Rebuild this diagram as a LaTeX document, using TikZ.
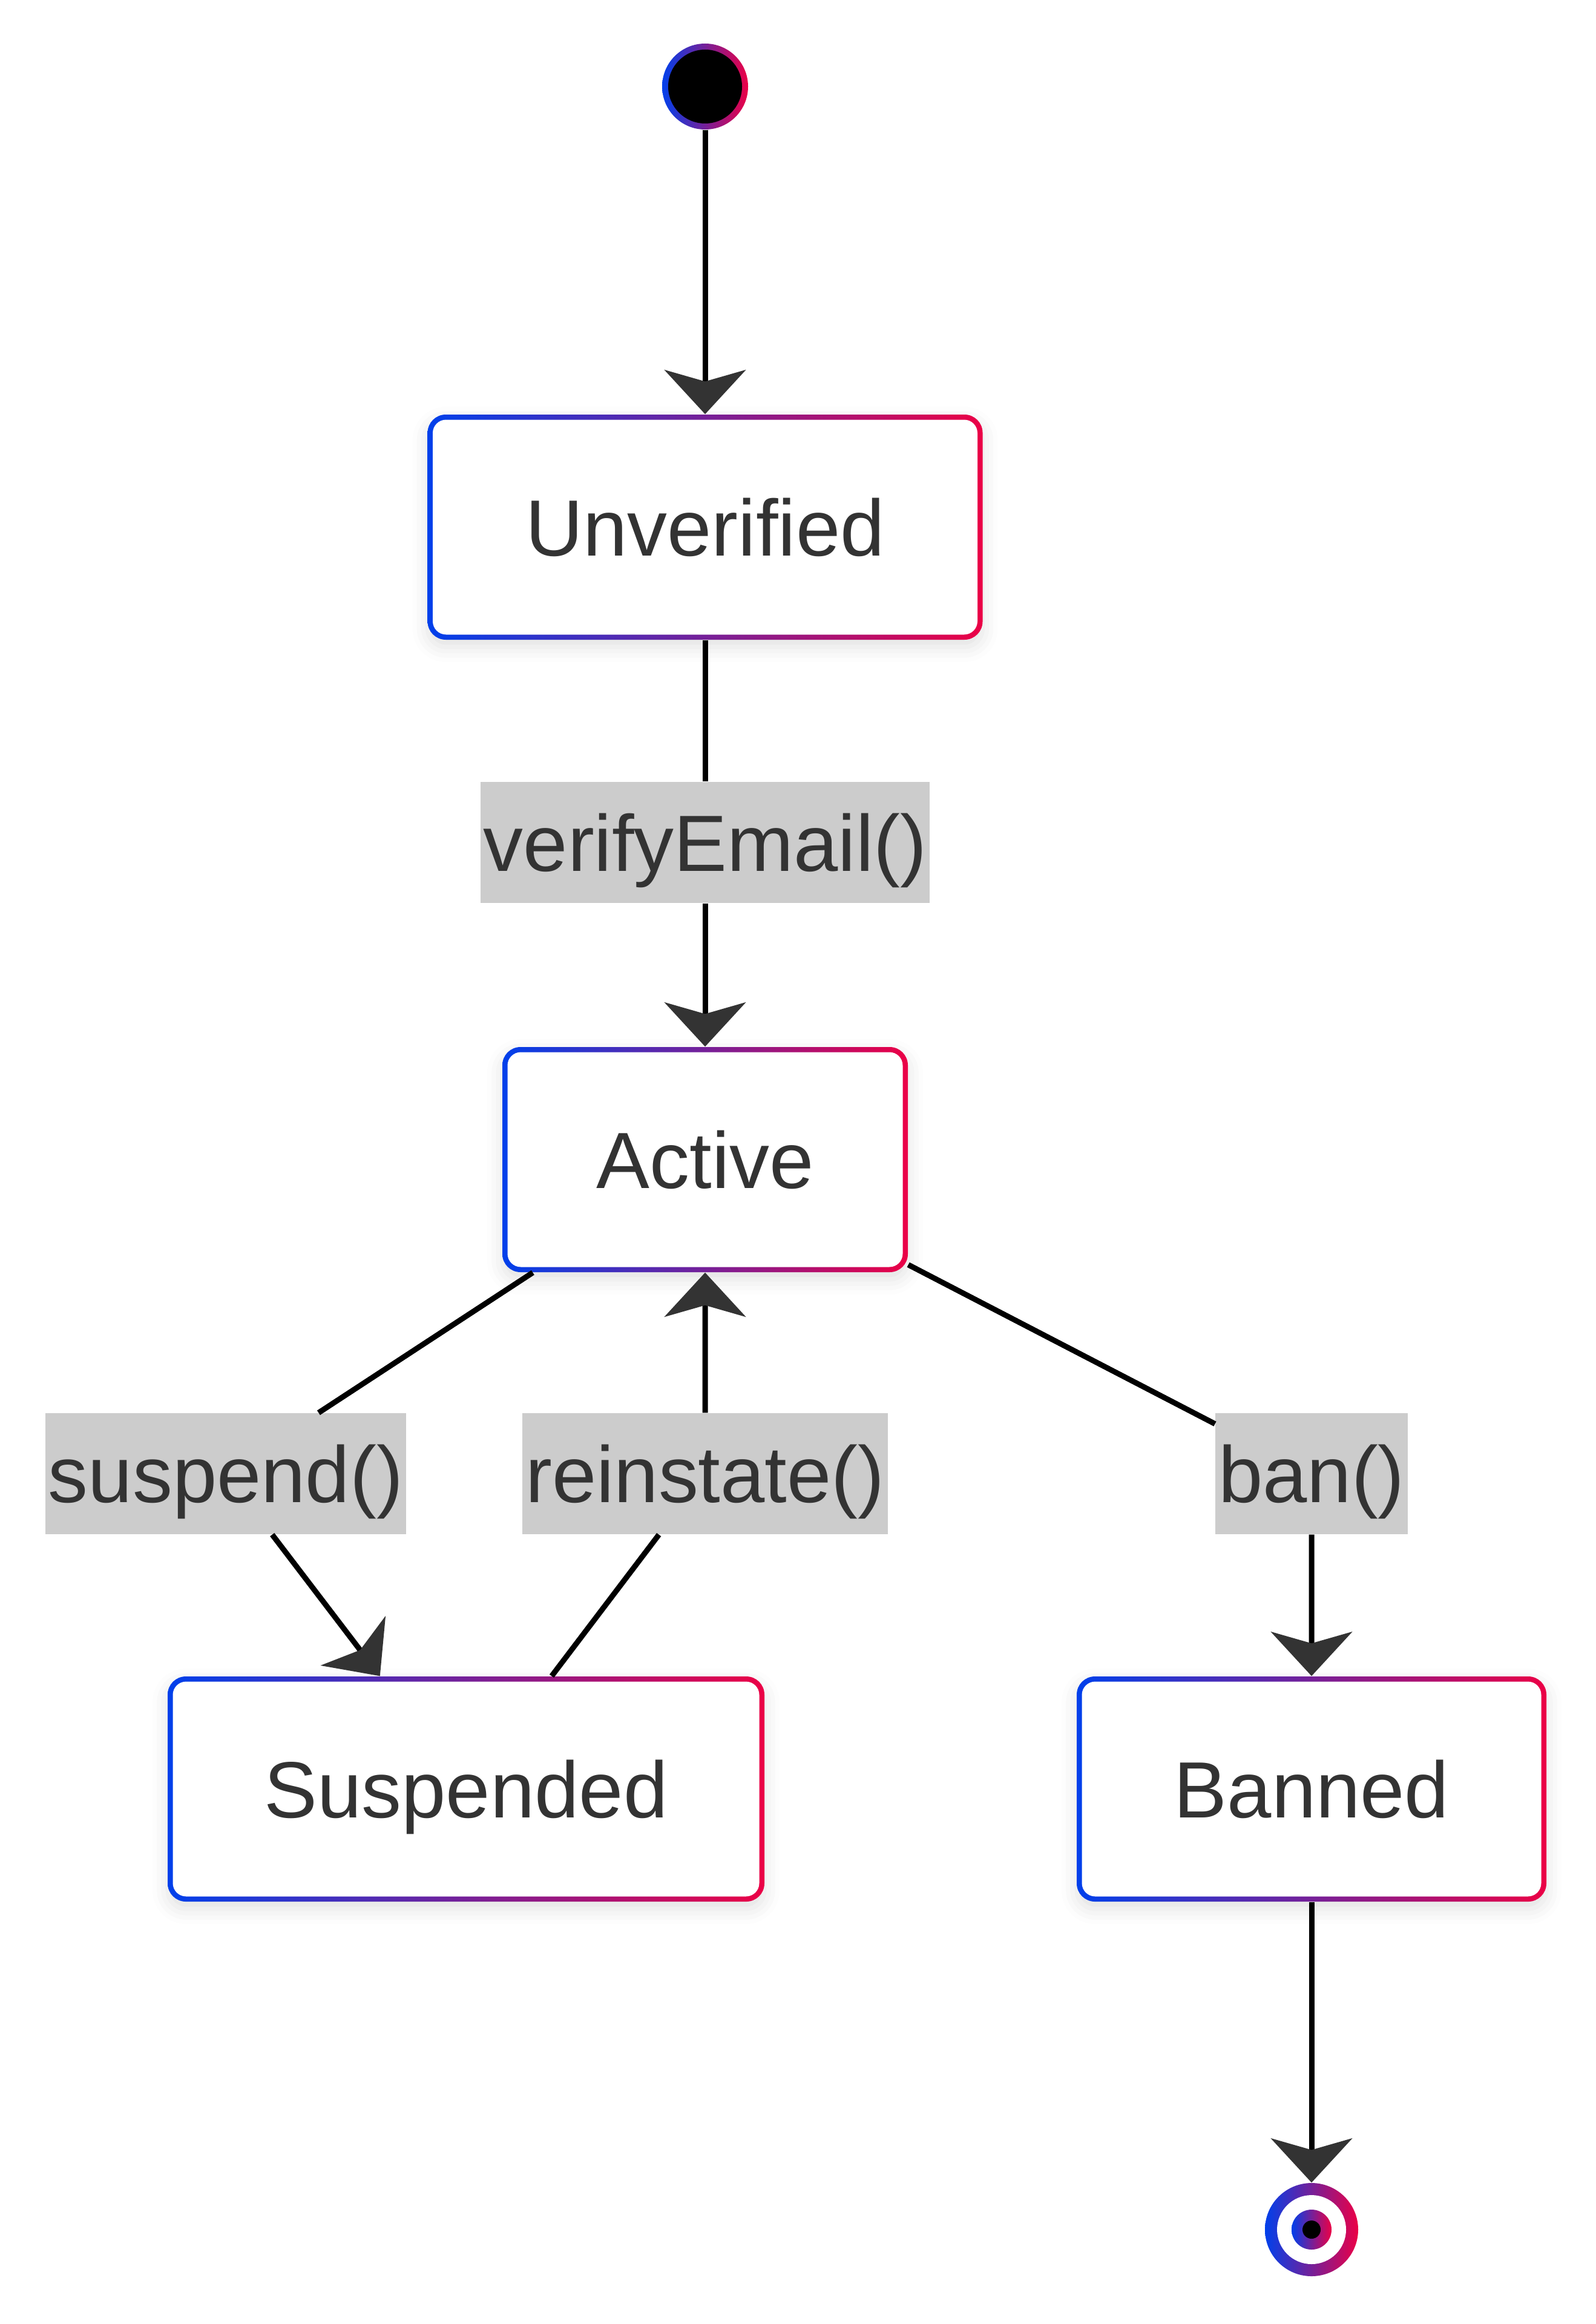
\documentclass[tikz,border=0pt]{standalone}
\usepackage{fontspec}
\setmainfont{Liberation Sans}
\usetikzlibrary{arrows.meta,shadows.blur}

\definecolor{blueend}{RGB}{0,64,235}
\definecolor{redend}{RGB}{235,0,70}
\definecolor{textgray}{HTML}{333333}
\definecolor{labelgray}{HTML}{CCCCCC}
\newcommand\statefont{\fontsize{37.5}{45}\selectfont}

\begin{document}
\begin{tikzpicture}
      \tikzstyle{state}=[rectangle,rounded corners=0.3cm,inner sep=0,minimum height=3.72cm,
        text height=0.95cm,text depth=0cm,left color=blueend,right color=redend,
        text=textgray,font=\statefont,
        blur shadow={shadow xshift=0cm,shadow yshift=-0.12cm,shadow blur radius=0.25cm,shadow opacity=12},
        path picture={\fill[white,rounded corners=0.22cm]
          ([shift={(0.085,0.085)}]path picture bounding box.south west) rectangle
          ([shift={(-0.085,-0.085)}]path picture bounding box.north east);}]
      \tikzstyle{trigger}=[fill=labelgray,text=textgray,font=\statefont,inner xsep=0.05cm,
        inner ysep=0,minimum height=2cm,text height=0.95cm,text depth=0cm]
      \tikzstyle{edge}=[line width=0.09cm,-{Stealth[length=0.73cm,width=1.34cm,inset=0.19cm,color=textgray]}]
      \useasboundingbox (0,0) rectangle (26.36,-38.40);
      % Start and end points
      \node (start) at (11.65,-1.43) [circle,minimum size=1.42cm,inner sep=0,left color=blueend,right color=redend,
        path picture={\fill[black] (path picture bounding box.center) circle (0.61);}] {};
      \node (finish) at (21.67,-36.84) [circle,minimum size=1.54cm,inner sep=0,left color=blueend,right color=redend,
        path picture={\fill[white] (path picture bounding box.center) circle (0.57);
          \shade[left color=blueend,right color=redend] (path picture bounding box.center) circle (0.33);
          \fill[black] (path picture bounding box.center) circle (0.15);}] {};
      % States
      \node (unverified) at (11.65,-8.71) [state,minimum width=9.17cm] {Unverified};
      \node (active) at (11.65,-19.16) [state,minimum width=6.70cm] {Active};
      \node (suspended) at (7.70,-29.56) [state,minimum width=9.86cm] {Suspended};
      \node (banned) at (21.67,-29.56) [state,minimum width=7.76cm] {Banned};
      % Transition labels
      \node (verify) at (11.65,-13.92) [trigger] {verifyEmail()};
      \node (suspend) at (3.73,-24.35) [trigger] {suspend()};
      \node (reinstate) at (11.65,-24.35) [trigger] {reinstate()};
      \node (ban) at (21.67,-24.35) [trigger] {ban()};
      % Transitions
      \draw [edge] (start) -- (unverified);
      \draw [edge] (unverified) -- (verify) -- (active);
      \draw [edge] (active) -- (suspend) -- (suspended);
      \draw [edge] (suspended) -- (reinstate) -- (active);
      \draw [edge] (active) -- (ban) -- (banned);
      \draw [edge] (banned) -- (finish);
    \end{tikzpicture}
\end{document}
